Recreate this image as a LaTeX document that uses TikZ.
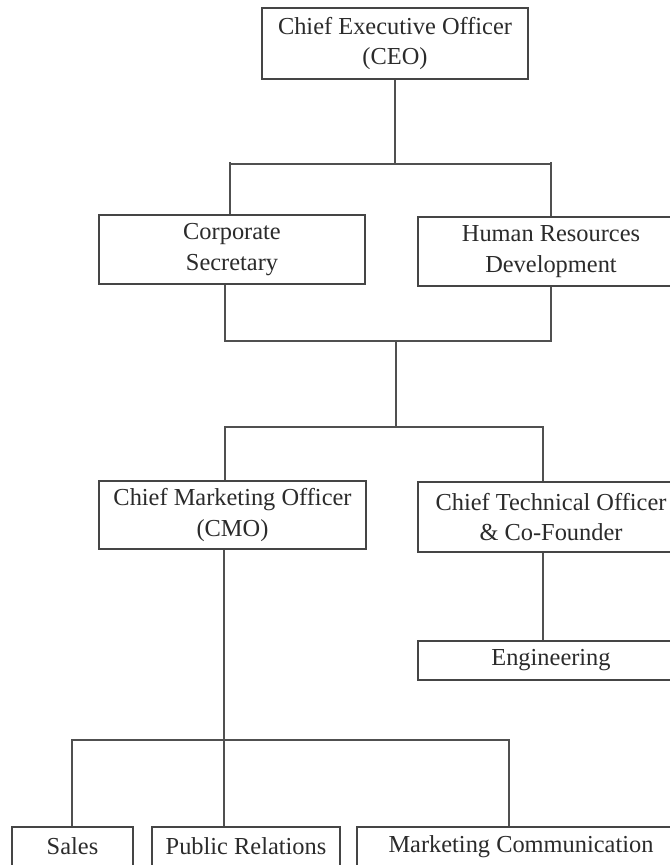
\documentclass[tikz,border=0pt]{standalone}
\usepackage{fontspec}
\setmainfont{Liberation Serif}
\usetikzlibrary{calc}

\definecolor{boxline}{HTML}{454545}
\definecolor{wire}{HTML}{505050}
\definecolor{ink}{HTML}{2B2B2B}

\tikzset{
  unit/.style={draw=boxline, line width=1.3bp, fill=white, text=ink, align=center,
    inner sep=0pt, font=\fontsize{24.4bp}{30.5bp}\selectfont},
  link/.style={draw=wire, line width=1.2bp}
}

\begin{document}
\begin{tikzpicture}[x=1bp, y=-1bp]
  \useasboundingbox (0,0) rectangle (670,865);
  \fill[white] (0,0) rectangle (670,865);
  \clip (0,0) rectangle (670,865);

  % units of the organisation
  \node[unit, minimum width=266bp, minimum height=71bp] (ceo) at (395,43.5)
    {Chief Executive Officer\\(CEO)};
  \node[unit, minimum width=266bp, minimum height=69bp] (cs) at (232,249.5)
    {Corporate\\Secretary};
  \node[unit, minimum width=266bp, minimum height=69bp] (hr) at (551,251.5)
    {Human Resources\\Development};
  \node[unit, minimum width=267bp, minimum height=68bp] (cmo) at (232.5,515)
    {Chief Marketing Officer\\(CMO)};
  \node[unit, minimum width=266bp, minimum height=70bp] (cto) at (551,517)
    {Chief Technical Officer\\\& Co-Founder};
  \node[unit, minimum width=266bp, minimum height=39bp] (eng) at (551,660.5)
    {Engineering};
  \node[unit, minimum width=121bp, minimum height=39bp] (sales) at (72.5,846.5)
    {Sales};
  \node[unit, minimum width=188bp, minimum height=39bp] (pr) at (246,846.5)
    {Public Relations};
  \node[unit, minimum width=328bp, minimum height=39bp] (mc) at (521,846.5)
    {Marketing Communication};

  % junction points of the connector buses
  \coordinate (tA) at (230,164);
  \coordinate (tB) at (551,164);
  \coordinate (csOut) at (225,341);
  \coordinate (hrOut) at (551,341);
  \coordinate (mid) at (396,341);
  \coordinate (cmoIn) at (225,427);
  \coordinate (ctoIn) at (543,427);
  \coordinate (prIn) at (224,740);
  \coordinate (salesIn) at (72,740);
  \coordinate (mcIn) at (509,740);

  % CEO to staff units
  \draw[link] (ceo.south) -- (ceo.south |- tA);
  \draw[link] (tA) -- (tB);
  \draw[link] ($(tA)+(0,-2)$) -- (tA |- cs.north);
  \draw[link] ($(tB)+(0,-2)$) -- (tB |- hr.north);

  % staff units to the chief officers
  \draw[link] (cs.south -| csOut) -- (csOut) -- (hrOut) -- (hr.south -| hrOut);
  \draw[link] (mid) -- (mid |- cmoIn);
  \draw[link] (cmo.north -| cmoIn) -- (cmoIn) -- (ctoIn) -- (cto.north -| ctoIn);

  % technical branch
  \draw[link] (cto.south -| ctoIn) -- (eng.north -| ctoIn);

  % marketing branch
  \draw[link] (cmo.south -| prIn) -- (pr.north -| prIn);
  \draw[link] (sales.north -| salesIn) -- (salesIn) -- (mcIn) -- (mc.north -| mcIn);
\end{tikzpicture}
\end{document}
